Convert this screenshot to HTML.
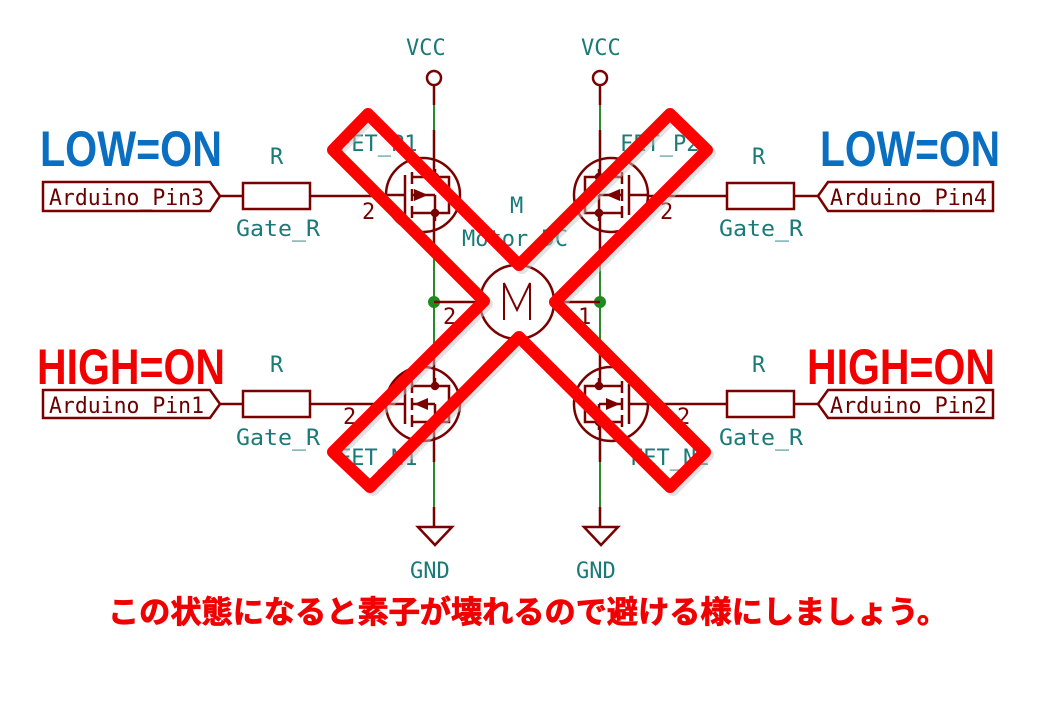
<!DOCTYPE html>
<html><head><meta charset="utf-8"><style>
html,body{margin:0;padding:0;background:#fff;width:1052px;height:706px;overflow:hidden}
svg text{font-family:"DejaVu Sans Mono","Liberation Mono",monospace}
</style></head><body>
<svg width="1052" height="706" viewBox="0 0 1052 706" xmlns="http://www.w3.org/2000/svg">
<defs>
<g id="fetP" stroke="#7a0000" stroke-width="2.5" fill="none">
  <circle cx="0" cy="0" r="37"/>
  <line x1="-37" y1="0" x2="-18" y2="0"/>
  <line x1="-18" y1="-20" x2="-18" y2="20"/>
  <line x1="-11" y1="-23" x2="-11" y2="-11"/>
  <line x1="-11" y1="-6" x2="-11" y2="6"/>
  <line x1="-11" y1="11" x2="-11" y2="23"/>
  <polyline points="-11,-18 12,-18 12,-26"/>
  <polyline points="-11,18 12,18 12,26"/>
  <line x1="-11" y1="0" x2="12" y2="0"/>
  <line x1="12" y1="0" x2="12" y2="18"/>
  <polyline points="12,-18 26,-18 26,18 12,18"/>
  <circle cx="12" cy="-18" r="3" fill="#7a0000"/>
  <circle cx="12" cy="18" r="3" fill="#7a0000"/>
</g>
</defs>

<g fill="#1a7a78" font-size="22">
<text x="406" y="55">VCC</text><text x="581" y="55">VCC</text>
<text x="410" y="578">GND</text><text x="576" y="578">GND</text>
</g>
<g stroke="#7a0000" stroke-width="2.5" fill="none">
<circle cx="434" cy="78" r="7"/><circle cx="600" cy="78" r="7"/>
<line x1="434" y1="85" x2="434" y2="105"/><line x1="600" y1="85" x2="600" y2="105"/>
<line x1="434" y1="130" x2="434" y2="177"/><line x1="600" y1="130" x2="600" y2="177"/>
<line x1="434" y1="213" x2="434" y2="250"/><line x1="600" y1="213" x2="600" y2="250"/>
<line x1="434" y1="345" x2="434" y2="386"/><line x1="600" y1="345" x2="600" y2="386"/>
<line x1="434" y1="422" x2="434" y2="462"/><line x1="600" y1="422" x2="600" y2="462"/>
<line x1="434" y1="507" x2="434" y2="527"/><line x1="600" y1="507" x2="600" y2="527"/>
<polygon points="418,527 452,527 435,545"/><polygon points="584,527 618,527 601,545"/>
</g>
<g stroke="#2a8a2a" stroke-width="2">
<line x1="434" y1="105" x2="434" y2="130"/><line x1="600" y1="105" x2="600" y2="130"/>
<line x1="434" y1="250" x2="434" y2="345"/><line x1="600" y1="250" x2="600" y2="345"/>
<line x1="434" y1="462" x2="434" y2="507"/><line x1="600" y1="462" x2="600" y2="507"/>
</g>
<circle cx="434" cy="302" r="6" fill="#1f8a1f"/><circle cx="600" cy="302" r="6" fill="#1f8a1f"/>

<use href="#fetP" transform="translate(423,195)"/>
<use href="#fetP" transform="translate(611,195) scale(-1,1)"/>
<use href="#fetP" transform="translate(423,404)"/>
<use href="#fetP" transform="translate(611,404) scale(-1,1)"/>
<g fill="#7a0000">
<polygon points="428,195 414,189 414,201"/>
<polygon points="606,195 620,189 620,201"/>
<polygon points="414,404 428,398 428,410"/>
<polygon points="620,404 606,398 606,410"/>
</g>

<g stroke="#7a0000" stroke-width="2.5" fill="none">
<circle cx="517" cy="302" r="37"/>
<line x1="434" y1="302" x2="480" y2="302"/>
<line x1="554" y1="302" x2="600" y2="302"/>
<polyline points="504,320 504,283 517,310 530,283 530,320" stroke-width="2"/>
</g>
<g fill="#7a0000" font-size="22">
<text x="443" y="324">2</text><text x="578" y="324">1</text>
<text x="362" y="219">2</text><text x="660" y="219">2</text>
<text x="343" y="424">2</text><text x="677" y="424">2</text>
</g>
<g fill="#1a7a78" font-size="22">
<text x="510" y="213">M</text>
<text x="462" y="246">Motor_DC</text>
<text x="338" y="151">FET_P1</text>
<text x="620" y="151">FET_P2</text>
<text x="338" y="465">FET_N1</text>
<text x="630" y="465">FET_N2</text>
<text x="270" y="164">R</text><text x="752" y="164">R</text>
<text x="270" y="372">R</text><text x="752" y="372">R</text>
<text x="236" y="236" textLength="84" lengthAdjust="spacingAndGlyphs">Gate_R</text><text x="719" y="236" textLength="84" lengthAdjust="spacingAndGlyphs">Gate_R</text>
<text x="236" y="445" textLength="84" lengthAdjust="spacingAndGlyphs">Gate_R</text><text x="719" y="445" textLength="84" lengthAdjust="spacingAndGlyphs">Gate_R</text>
</g>

<g stroke="#7a0000" stroke-width="2.5" fill="#fff">
<polygon points="43,182 210,182 220,196 210,211 43,211"/>
<polygon points="43,390 210,390 220,404 210,418 43,418"/>
<polygon points="993,182 828,182 818,196 828,211 993,211"/>
<polygon points="993,390 828,390 818,404 828,418 993,418"/>
<rect x="243" y="183" width="67" height="26"/>
<rect x="243" y="391" width="67" height="26"/>
<rect x="727" y="183" width="67" height="26"/>
<rect x="727" y="391" width="67" height="26"/>
<line x1="220" y1="196" x2="243" y2="196"/><line x1="310" y1="196" x2="386" y2="196"/>
<line x1="220" y1="404" x2="243" y2="404"/><line x1="310" y1="404" x2="386" y2="404"/>
<line x1="794" y1="196" x2="818" y2="196"/><line x1="648" y1="196" x2="727" y2="196"/>
<line x1="794" y1="404" x2="818" y2="404"/><line x1="648" y1="404" x2="727" y2="404"/>
</g>
<g fill="#6a0000" font-size="22">
<text x="49" y="205" textLength="155" lengthAdjust="spacingAndGlyphs">Arduino_Pin3</text>
<text x="49" y="413" textLength="155" lengthAdjust="spacingAndGlyphs">Arduino_Pin1</text>
<text x="830" y="205" textLength="157" lengthAdjust="spacingAndGlyphs">Arduino_Pin4</text>
<text x="830" y="413" textLength="157" lengthAdjust="spacingAndGlyphs">Arduino_Pin2</text>
</g>
<g font-weight="bold" font-size="50">
<text x="40" y="166" fill="#0a6fc0" textLength="182" lengthAdjust="spacingAndGlyphs" style="font-family:'Liberation Sans',sans-serif">LOW=ON</text>
<text x="820" y="166" fill="#0a6fc0" textLength="180" lengthAdjust="spacingAndGlyphs" style="font-family:'Liberation Sans',sans-serif">LOW=ON</text>
<text x="37" y="384" fill="#f20000" textLength="188" lengthAdjust="spacingAndGlyphs" style="font-family:'Liberation Sans',sans-serif">HIGH=ON</text>
<text x="807" y="384" fill="#f20000" textLength="188" lengthAdjust="spacingAndGlyphs" style="font-family:'Liberation Sans',sans-serif">HIGH=ON</text>
</g>

<polygon points="368,114 519,265 670,114 707,150 555,302 705,452 670,487 519,337 370,487 333,452 484,301 333,150" fill="none" stroke="#c8c8c8" stroke-width="12" stroke-linejoin="round" transform="translate(3,3)" opacity="0.5"/>
<polygon points="368,114 519,265 670,114 707,150 555,302 705,452 670,487 519,337 370,487 333,452 484,301 333,150" fill="none" stroke="#ff0000" stroke-width="12" stroke-linejoin="round"/>

<text x="108" y="623" fill="#f00000" font-size="31" font-weight="bold" stroke="#f00000" stroke-width="0.8" textLength="840" lengthAdjust="spacingAndGlyphs" style="font-family:'Liberation Sans','Noto Sans CJK JP',sans-serif">この状態になると素子が壊れるので避ける様にしましょう。</text>
</svg>
</body></html>
